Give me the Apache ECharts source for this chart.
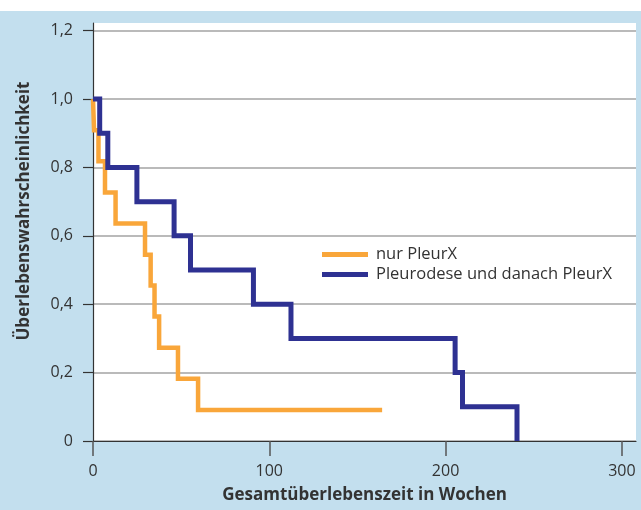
<!DOCTYPE html>
<html>
<head>
<meta charset="utf-8">
<script src="https://cdn.jsdelivr.net/npm/echarts@6/dist/echarts.min.js"></script>
<style>
  html, body { margin: 0; padding: 0; background: #fff; }
  #chart { width: 641px; height: 510px; background: linear-gradient(#fff 0 11px, #c3dfee 11px); }
</style>
</head>
<body>
<div id="chart"></div>
<script>
// Kaplan-Meier Kurven, Werte
const seriesNames = ['nur PleurX', 'Pleurodese und danach PleurX']
const pleurxWeeks = [0, 0.6, 3.1, 6.8, 12.8, 29.5, 32.7, 34.9, 37.5, 48.2, 59.6, 164]
const pleurxSurv = [1, 0.909, 0.818, 0.727, 0.636, 0.545, 0.455, 0.364, 0.273, 0.182, 0.091, 0.091]
const pleurodeseWeeks = [0, 3.8, 8.4, 24.9, 46, 55.3, 91, 112.3, 205.4, 209.6, 240.5]
const pleurodeseSurv = [1, 0.9, 0.8, 0.7, 0.6, 0.5, 0.4, 0.3, 0.2, 0.1, 0]
const xTicks = [0, 100, 200, 300]
const yTicks = [0, 0.2, 0.4, 0.6, 0.8, 1.0, 1.2]

const font = '"Open Sans", "Noto Sans", sans-serif'
const textColor = '#333'
const toPairs = (xs, ys) => xs.map((x, i) => [x, ys[i]])

const option = {
  backgroundColor: 'transparent',
  textStyle: { fontFamily: font },
  grid: {
    left: 93,
    right: 5,
    top: 23,
    bottom: 69,
    show: true,
    backgroundColor: '#fff',
    borderWidth: 0,
    borderColor: 'transparent'
  },
  legend: {
    orient: 'vertical',
    left: 317,
    top: 241,
    itemWidth: 46,
    itemHeight: 5,
    itemGap: 3,
    icon: 'rect',
    textStyle: { fontSize: 16.5, color: textColor, fontFamily: font, padding: [0, 0, 0, 3] },
    data: seriesNames
  },
  xAxis: {
    type: 'value',
    min: 0,
    max: 308,
    name: 'Gesamtüberlebenszeit in Wochen',
    nameLocation: 'middle',
    nameGap: 46,
    nameTextStyle: { fontSize: 17, fontWeight: 'bold', color: textColor, fontFamily: font },
    axisLine: { show: true, lineStyle: { color: '#333', width: 1.2 } },
    axisTick: { show: true, length: 15, customValues: xTicks, lineStyle: { color: '#555', width: 1.5 } },
    axisLabel: { customValues: xTicks, fontSize: 16, color: textColor, margin: 22, fontFamily: font },
    splitLine: { show: false }
  },
  yAxis: {
    type: 'value',
    min: 0,
    max: 1.2226,
    name: 'Überlebenswahrscheinlichkeit',
    nameLocation: 'middle',
    nameGap: 60,
    nameTextStyle: { fontSize: 17, fontWeight: 'bold', color: textColor, fontFamily: font, padding: [0, 0, 0, 42] },
    axisLine: { show: true, lineStyle: { color: '#333', width: 1.2 } },
    axisTick: { show: true, length: 10, customValues: yTicks, lineStyle: { color: '#333', width: 1.2 } },
    axisLabel: {
      customValues: yTicks,
      fontSize: 16,
      color: textColor,
      margin: 20,
      fontFamily: font,
      formatter: v => (v === 0 ? '0' : v.toFixed(1).replace('.', ','))
    },
    splitLine: { show: true, lineStyle: { color: '#a3a3a3', width: 1.5 } }
  },
  series: [
    {
      name: seriesNames[0],
      type: 'line',
      step: 'end',
      symbol: 'none',
      clip: false,
      color: '#f9a63a',
      lineStyle: { width: 4.5, color: '#f9a63a', join: 'miter' },
      data: toPairs(pleurxWeeks, pleurxSurv),
      z: 3
    },
    {
      name: seriesNames[1],
      type: 'line',
      step: 'end',
      symbol: 'none',
      clip: false,
      color: '#2e3192',
      lineStyle: { width: 5, color: '#2e3192', join: 'miter' },
      data: toPairs(pleurodeseWeeks, pleurodeseSurv),
      z: 4
    }
  ]
}

const chart = echarts.init(document.getElementById('chart'))
chart.setOption(option)
</script>
</body>
</html>
